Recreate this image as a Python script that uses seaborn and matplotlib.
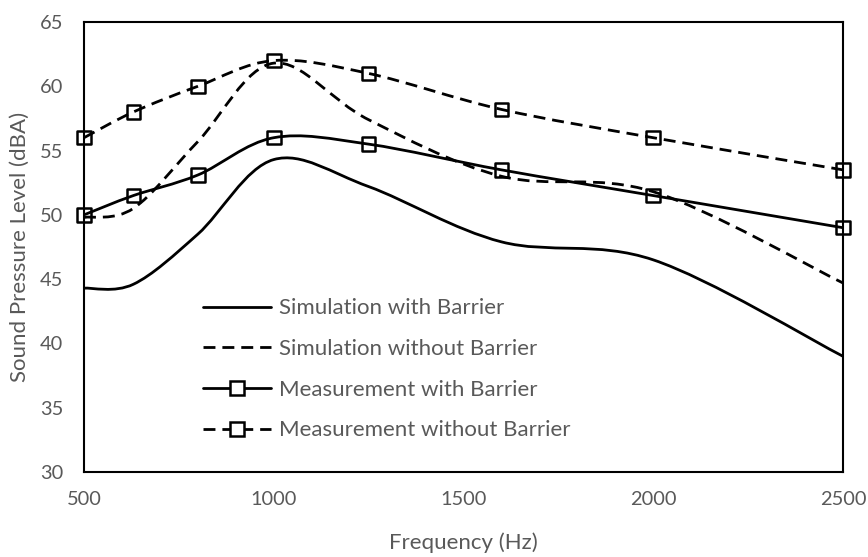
import numpy as np
import pandas as pd
import seaborn as sns
import matplotlib
matplotlib.use("Agg")
import matplotlib.pyplot as plt
from matplotlib.path import Path
from matplotlib.patches import PathPatch
from matplotlib.lines import Line2D

# ---- data ----
freq = [500, 630, 800, 1000, 1250, 1600, 2000, 2500]
sim_with = [44.3, 44.6, 48.5, 54.3, 52.2, 47.9, 46.5, 39.0]
sim_without = [49.8, 50.5, 55.7, 61.8, 57.4, 53.0, 51.8, 44.7]
meas_with = [50.0, 51.5, 53.1, 56.0, 55.5, 53.5, 51.5, 49.0]
meas_without = [56.0, 58.0, 60.0, 62.0, 61.0, 58.2, 56.0, 53.5]
labels = ["Simulation with Barrier", "Simulation without Barrier",
          "Measurement with Barrier", "Measurement without Barrier"]
xticks = [500, 1000, 1500, 2000, 2500]
yticks = [30, 35, 40, 45, 50, 55, 60, 65]

sns.set_style("white")
plt.rcParams["font.family"] = ["Lato", "DejaVu Sans"]

GREY = "#595959"
LW = 2.0
DASH = (0, (4.3, 2.5))

fig = plt.figure(figsize=(8.68, 5.57), dpi=100)
ax = fig.add_axes([84 / 868, 85 / 557, 759 / 868, 450 / 557])


def smooth_path(xs, ys):
    """Excel-style smoothed line: cubic Bezier segments through the points."""
    P = np.column_stack([xs, ys]).astype(float)
    n = len(P)
    verts = [P[0]]
    codes = [Path.MOVETO]
    for i in range(n - 1):
        pm = P[i - 1] if i > 0 else P[i]
        pp = P[i + 2] if i + 2 < n else P[i + 1]
        c1 = P[i] + (P[i + 1] - pm) / 6.0
        c2 = P[i + 1] - (pp - P[i]) / 6.0
        verts += [c1, c2, P[i + 1]]
        codes += [Path.CURVE4] * 3
    return Path(verts, codes)


series = [
    (sim_with, "solid"),
    (sim_without, DASH),
    (meas_with, "solid"),
    (meas_without, DASH),
]

for vals, ls in series:
    patch = PathPatch(smooth_path(freq, vals), facecolor="none", edgecolor="black",
                      lw=LW, linestyle=ls, zorder=2)
    ax.add_patch(patch)

df = pd.DataFrame({"freq": freq * 2,
                   "spl": meas_with + meas_without})
sns.scatterplot(data=df, x="freq", y="spl", ax=ax, marker="s", s=95,
                facecolor="none", edgecolor="black", linewidth=1.8,
                zorder=3, clip_on=False, legend=False)

ax.set_xlim(500, 2500)
ax.set_ylim(30, 65)
ax.set_xticks(xticks)
ax.set_yticks(yticks)
ax.tick_params(axis="x", length=0, pad=14, labelsize=14.4, labelcolor=GREY)
ax.tick_params(axis="y", length=0, pad=15, labelsize=14.4, labelcolor=GREY)
for sp in ax.spines.values():
    sp.set_visible(True)
    sp.set_color("black")
    sp.set_linewidth(1.5)

ax.set_xlabel("Frequency (Hz)", fontsize=16, color=GREY, labelpad=17)
ax.set_ylabel("Sound Pressure Level (dBA)", fontsize=16, color=GREY, labelpad=7)

handles = [
    Line2D([], [], color="black", lw=LW, ls="solid"),
    Line2D([], [], color="black", lw=LW, ls=DASH),
    Line2D([], [], color="black", lw=LW, ls="solid", marker="s", markersize=9.5,
           markerfacecolor="white", markeredgewidth=1.8),
    Line2D([], [], color="black", lw=LW, ls=DASH, marker="s", markersize=9.5,
           markerfacecolor="white", markeredgewidth=1.8),
]
leg = ax.legend(handles, labels, loc="center left", bbox_to_anchor=(0.157, 0.228),
                frameon=False, fontsize=16, handlelength=3.06, handletextpad=0.36,
                labelspacing=0.93, numpoints=1, borderpad=0, borderaxespad=0)
for t in leg.get_texts():
    t.set_color(GREY)

fig.savefig("out.png", dpi=100)
